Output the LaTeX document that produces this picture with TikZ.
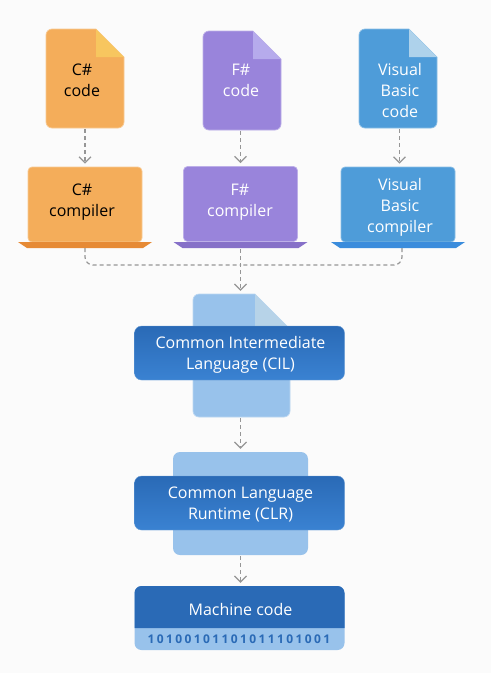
\documentclass[tikz,border=0pt]{standalone}
\usepackage{fontspec}
\setmainfont{Open Sans}
\usetikzlibrary{arrows.meta, positioning}
\definecolor{pagebg}{RGB}{251, 251, 251}
\definecolor{csfill}{RGB}{244, 173, 90}
\definecolor{csfold}{RGB}{247, 198, 95}
\definecolor{csbar}{RGB}{230, 138, 53}
\definecolor{fsfill}{RGB}{153, 132, 219}
\definecolor{fsfold}{RGB}{182, 171, 236}
\definecolor{fsbar}{RGB}{134, 112, 200}
\definecolor{vbfill}{RGB}{78, 156, 217}
\definecolor{vbfold}{RGB}{174, 210, 235}
\definecolor{vbbar}{RGB}{58, 140, 220}
\definecolor{paleblue}{RGB}{152, 194, 235}
\definecolor{palefold}{RGB}{183, 211, 232}
\definecolor{deepblue}{RGB}{42, 106, 182}
\definecolor{midblue}{RGB}{58, 130, 210}
\definecolor{flowgray}{RGB}{150, 150, 150}
\tikzset{
    label text/.style={font=\fontsize{16}{21}\selectfont, align=center, inner sep=0pt},
    sheetbox/.style={minimum width=#1, inner sep=0pt},
    compiler/.style={rectangle, rounded corners=4, minimum width=114, minimum height=75, line width=0.7pt},
    runtime box/.style={rectangle, rounded corners=7, minimum width=210, minimum height=54, inner sep=0pt,
        top color=deepblue, bottom color=midblue, draw=paleblue!60!deepblue, line width=0.4pt},
    flow/.style={flowgray, line width=1.2pt, dash pattern=on 4pt off 3pt},
    flow tip/.style={flow, -{Straight Barb[length=6pt, width=12pt]}, shorten >=3pt, shorten <=1pt},
}
% name, left, top, width, height, fold, fill, fold fill
\newcommand{\filesheet}[8]{
    \draw[fill=#7, line width=0.7pt, draw=#7!65!white, rounded corners=6]
        (#2,{#3+#5/2}) -- (#2,#3) [sharp corners] -- ({#2+#4-#6},#3) -- ({#2+#4},{#3+#6})
        [rounded corners=6] -- ({#2+#4},{#3+#5}) -- (#2,{#3+#5}) -- cycle;
    \fill[#8] ({#2+#4-#6},#3) -- ({#2+#4},{#3+#6}) -- ({#2+#4-#6},{#3+#6}) -- cycle;
    \node[sheetbox=#4, minimum height=#5] (#1) at ({#2+#4/2},{#3+#5/2}) {};
}
% name, centre, fill
\newcommand{\laptopbar}[3]{
    \fill[#3] ({#2-67},242) -- ({#2+67},242) -- ({#2+58},248) -- ({#2-58},248) -- cycle;
    \coordinate (#1) at (#2,248);
}
\begin{document}
\begin{tikzpicture}[x=1pt, y=-1pt]
    \useasboundingbox (0,0) rectangle (491,673);
    \fill[pagebg] (0,0) rectangle (491,673);

    % Source files
    \filesheet{csfile}{46}{29}{78}{99}{28}{csfill}{csfold}
    \filesheet{fsfile}{203}{31}{78}{99}{28}{fsfill}{fsfold}
    \filesheet{vbfile}{359}{29}{78}{99}{28}{vbfill}{vbfold}
    \node[label text, black] (cstext) at (82,80) {C\#\\code};
    \node[label text, white] (fstext) at (241,80) {F\#\\code};
    \node[label text, white] (vbtext) at (400,90.5) {Visual\\Basic\\code};

    % Compilers
    \node[compiler, fill=csfill, draw=csfill!65!white] (cscomp) at (85,204.5) {};
    \node[compiler, fill=fsfill, draw=fsfill!65!white] (fscomp) at (240.5,204) {};
    \node[compiler, fill=vbfill, draw=vbfill!65!white] (vbcomp) at (398,204.5) {};
    \laptopbar{csbase}{85}{csbar}
    \laptopbar{fsbase}{240.5}{fsbar}
    \laptopbar{vbbase}{398}{vbbar}
    \node[label text, black] (cscomptext) at (82,202) {C\#\\compiler};
    \node[label text, white] (fscomptext) at (240,202) {F\#\\compiler};
    \node[label text, white] (vbcomptext) at (400,207) {Visual\\Basic\\compiler};

    % Common Intermediate Language
    \filesheet{cilfile}{193}{294}{97}{123}{35}{paleblue}{palefold}
    \node[runtime box] (cilbox) at (239.5,353) {};
    \node[label text, white] (ciltext) at (240.5,354.5) {Common Intermediate\\Language (CIL)};

    % Common Language Runtime
    \node[rectangle, rounded corners=7, fill=paleblue, minimum width=135, minimum height=103] (clrback) at (240.5,503.5) {};
    \node[runtime box] (clrbox) at (239.5,503) {};
    \node[label text, white] (clrtext) at (240.5,504.5) {Common Language\\Runtime (CLR)};

    % Machine code
    \node[rectangle, rounded corners=7, fill=paleblue, minimum width=210, minimum height=64] (machback) at (239.5,618) {};
    \fill[deepblue, rounded corners=7] (134.5,628) -- (134.5,586) -- (344.5,586) [sharp corners] -- (344.5,628) -- cycle;
    \node[label text, white] (machtext) at (240.5,609) {Machine code};
    \node[inner sep=0pt, text=deepblue, font=\fontsize{12}{14}\bfseries\selectfont\addfontfeature{LetterSpace=20}] (bintext) at (239,639) {10100101101011101001};

    % Dashed connectors
    \coordinate (merge) at (241,265);
    \draw[flow tip] (csfile.south) -- (cscomp.north);
    \draw[flow tip] (fsfile.south -| fscomp) -- (fscomp.north);
    \draw[flow tip] ([xshift=1.5]vbfile.south) -- ([xshift=1.5]vbcomp.north);
    \draw[flow, rounded corners=8] (csbase) |- (merge);
    \draw[flow, rounded corners=8] ([xshift=4]vbbase) |- (merge);
    \draw[flow tip] (fsbase) -- (fsbase |- cilfile.north);
    \draw[flow tip] (clrback.north |- cilfile.south) -- (clrback.north);
    \draw[flow tip] (clrback.south) -- (clrback.south |- machback.north);
\end{tikzpicture}
\end{document}
